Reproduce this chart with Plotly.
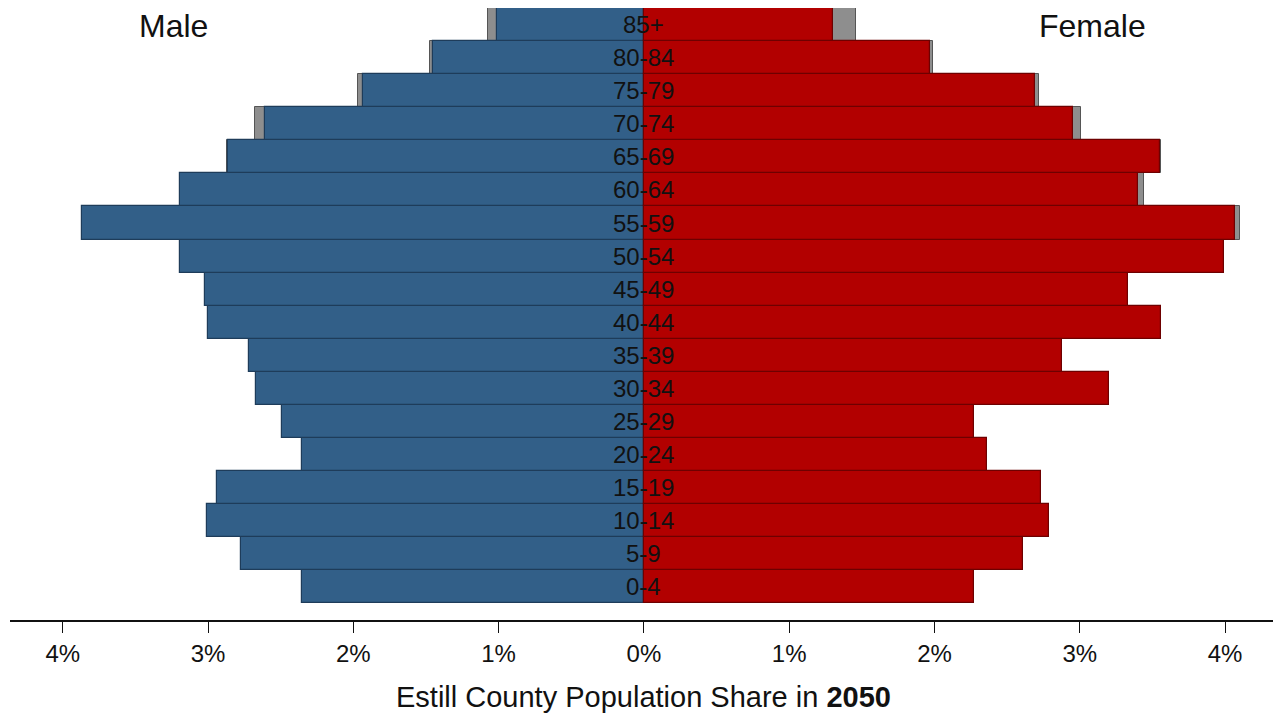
import plotly.graph_objects as go

ages = ["0-4", "5-9", "10-14", "15-19", "20-24", "25-29", "30-34", "35-39", "40-44",
        "45-49", "50-54", "55-59", "60-64", "65-69", "70-74", "75-79", "80-84", "85+"]

male_2050 = [2.35, 2.77, 3.01, 2.94, 2.35, 2.49, 2.67, 2.72, 3.00,
             3.02, 3.19, 3.87, 3.19, 2.86, 2.61, 1.93, 1.45, 1.01]
female_2050 = [2.27, 2.61, 2.79, 2.73, 2.36, 2.27, 3.20, 2.88, 3.56,
               3.33, 3.99, 4.07, 3.40, 3.55, 2.95, 2.69, 1.97, 1.30]

male_ref = [2.34, 2.76, 3.00, 2.93, 2.34, 2.48, 2.66, 2.71, 2.99,
            3.01, 3.18, 3.86, 3.18, 2.87, 2.68, 1.97, 1.47, 1.07]
female_ref = [2.26, 2.60, 2.78, 2.72, 2.35, 2.26, 3.19, 2.87, 3.55,
              3.32, 3.98, 4.10, 3.44, 3.56, 3.01, 2.72, 1.99, 1.46]

tick_vals = [-4, -3, -2, -1, 0, 1, 2, 3, 4]
tick_text = ["4%", "3%", "2%", "1%", "0%", "1%", "2%", "3%", "4%"]

FONT = "Liberation Sans, Arial, sans-serif"
BLUE = "#325f88"
RED = "#b20000"
GRAY = "#8e8e8e"

fig = go.Figure()
fig.add_trace(go.Bar(y=ages, x=[-v for v in male_ref], orientation="h",
                     marker=dict(color=GRAY, line=dict(color="#555555", width=1)),
                     hoverinfo="skip", showlegend=False))
fig.add_trace(go.Bar(y=ages, x=female_ref, orientation="h",
                     marker=dict(color=GRAY, line=dict(color="#555555", width=1)),
                     hoverinfo="skip", showlegend=False))
fig.add_trace(go.Bar(y=ages, x=[-v for v in male_2050], orientation="h",
                     marker=dict(color=BLUE, line=dict(color="#1e3c5a", width=1.2)),
                     hoverinfo="skip", showlegend=False))
fig.add_trace(go.Bar(y=ages, x=female_2050, orientation="h",
                     marker=dict(color=RED, line=dict(color="#6e0000", width=1.2)),
                     hoverinfo="skip", showlegend=False))

for a in ages:
    fig.add_annotation(x=0, y=a, xref="x", yref="y", text=a, showarrow=False,
                       font=dict(family=FONT, size=24, color="#111111"),
                       xanchor="center", yanchor="middle")

fig.add_annotation(x=-3.24, y=0.97, xref="x", yref="paper", text="Male", showarrow=False,
                   font=dict(family=FONT, size=32, color="#111111"),
                   xanchor="center", yanchor="middle")
fig.add_annotation(x=3.09, y=0.97, xref="x", yref="paper", text="Female", showarrow=False,
                   font=dict(family=FONT, size=32, color="#111111"),
                   xanchor="center", yanchor="middle")
fig.add_annotation(x=0, y=-0.125, xref="x", yref="paper",
                   text="Estill County Population Share in <b>2050</b>", showarrow=False,
                   font=dict(family=FONT, size=29, color="#111111"),
                   xanchor="center", yanchor="middle")

fig.update_layout(
    width=1281, height=717,
    margin=dict(l=2, r=0, t=0, b=105),
    barmode="overlay", bargap=0,
    plot_bgcolor="white", paper_bgcolor="white",
    font=dict(family=FONT, color="#111111"),
    showlegend=False,
)
fig.update_xaxes(range=[-4.363, 4.44], tickvals=tick_vals, ticktext=tick_text,
                 showline=True, linecolor="#111111", linewidth=1.5,
                 ticks="outside", ticklen=11, tickwidth=1.2, tickcolor="#111111",
                 tickfont=dict(family=FONT, size=24, color="#111111"),
                 showgrid=False, zeroline=False, fixedrange=True)
fig.update_yaxes(range=[-1.0, 17.5], showticklabels=False, showgrid=False,
                 zeroline=False, showline=False, ticks="", fixedrange=True,
                 categoryorder="array", categoryarray=ages)

fig.write_html("out.html", config={"displayModeBar": False})
